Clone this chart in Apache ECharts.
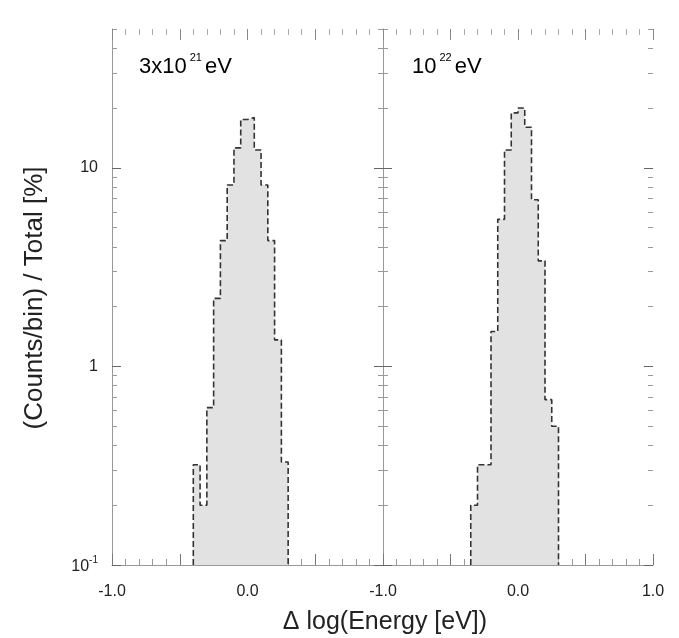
<!DOCTYPE html>
<html><head><meta charset="utf-8">
<script src="https://cdn.jsdelivr.net/npm/echarts@6/dist/echarts.min.js"></script>
<style>html,body{margin:0;padding:0;background:#fff}#c{width:679px;height:638px}</style>
</head><body><div id="c"></div>
<script>
// ---- data ----
const leftBinEdges  = [-0.4,-0.35,-0.3,-0.25,-0.2,-0.15,-0.1,-0.05,0,0.05,0.1,0.15,0.2,0.25,0.3];
const leftPercent   = [0.32,0.2,0.62,2.2,4.3,8.2,12.6,17.5,17.9,12.3,8.2,4.3,1.36,0.33];
const rightBinEdges = [-0.35,-0.3,-0.25,-0.2,-0.15,-0.1,-0.05,0,0.05,0.1,0.15,0.2,0.25,0.3];
const rightPercent  = [0.2,0.32,0.32,1.5,5.5,12.3,18.9,20,16,6.9,3.4,0.68,0.5];
const panelBase = ['3x10', '10'];
const panelExp  = ['21', '22'];
const panelUnit = 'eV';
const xLabelsLeft  = [-1, 0];
const xLabelsRight = [-1, 0, 1];
const yMajor = [0.1, 1, 10];
const yMinor = [0.2,0.3,0.4,0.5,0.6,0.7,0.8,0.9,2,3,4,5,6,7,8,9,20,30,40,50];
const yTitle = '(Counts/bin) / Total [%]';
const xTitle = '\u0394 log(Energy [eV])';
const yMin = 0.1, yMax = 50, xMin = -1, xMax = 1;

const FONT = '"Liberation Sans", Arial, sans-serif';
const TXT = '#222';

function stepData(edges, vals) {
  const d = [[edges[0], yMin]];
  vals.forEach((v, i) => d.push([edges[i], v > yMin ? v : yMin]));
  d.push([edges[edges.length - 1], vals[vals.length - 1]]);
  d.push([edges[edges.length - 1], yMin]);
  return d;
}

const grids = [
  {left: 112, top: 29, width: 271, height: 536},
  {left: 383, top: 29, width: 270, height: 536}
];

const xAxes = [];
const yAxes = [];
[0, 1].forEach(g => {
  // bottom
  xAxes.push({
    type: 'value', gridIndex: g, min: xMin, max: xMax, interval: 0.5, position: 'bottom',
    axisLine: {show: true, onZero: false, lineStyle: {color: '#999', width: 1}},
    axisTick: {show: true, inside: true, length: 11, lineStyle: {color: '#777'}},
    minorTick: {show: true, splitNumber: 5, length: 6, lineStyle: {color: '#999'}},
    splitLine: {show: false}, minorSplitLine: {show: false},
    axisLabel: {
      show: true, customValues: g === 0 ? xLabelsLeft : xLabelsRight, margin: 19,
      fontFamily: FONT, fontSize: 16, color: TXT,
      formatter: v => (v < 0 ? '-' : '') + Math.abs(v).toFixed(1)
    }
  });
  // top
  xAxes.push({
    type: 'value', gridIndex: g, min: xMin, max: xMax, interval: 0.5, position: 'top',
    axisLine: {show: false, onZero: false},
    axisTick: {show: true, inside: true, length: 11, lineStyle: {color: '#888'}},
    minorTick: {show: true, splitNumber: 5, length: 6, lineStyle: {color: '#aaa'}},
    splitLine: {show: false}, axisLabel: {show: false}
  });
  const mk = (pos, major, lineShow, labels) => ({
    type: 'log', logBase: 10, gridIndex: g, min: yMin, max: yMax, position: pos,
    axisLine: {show: lineShow, onZero: false, lineStyle: {color: '#999', width: 1}},
    axisTick: {show: true, inside: true, length: major ? 9 : 5, customValues: major ? yMajor : yMinor,
               lineStyle: {color: major ? '#666' : '#999'}},
    splitLine: {show: false},
    axisLabel: labels ? {
      show: true, customValues: yMajor, margin: 14, fontFamily: FONT, fontSize: 16, color: TXT,
      formatter: v => v < 0.5 ? '{b|10}{s|-1}' : String(Math.round(v)),
      rich: {b: {fontFamily: FONT, fontSize: 16, color: TXT, verticalAlign: 'bottom', lineHeight: 20},
             s: {fontFamily: FONT, fontSize: 10, color: TXT, verticalAlign: 'top', lineHeight: 20}}
    } : {show: false}
  });
  yAxes.push(mk('left', true, true, g === 0));
  yAxes.push(mk('left', false, false, false));
  yAxes.push(mk('right', true, false, false));
  yAxes.push(mk('right', false, false, false));
});

const mkSeries = (g, edges, vals) => ({
  type: 'line', xAxisIndex: g * 2, yAxisIndex: g * 4, step: 'end',
  data: stepData(edges, vals), symbol: 'none', silent: true, clip: true,
  lineStyle: {color: '#333', width: 1.6, type: [6, 3]},
  areaStyle: {color: '#e2e2e2', opacity: 1, origin: 'start'},
  z: 3
});

const richPanel = {
  a: {fontFamily: FONT, fontSize: 22, color: TXT, verticalAlign: 'bottom', lineHeight: 26},
  s: {fontFamily: FONT, fontSize: 11, color: TXT, verticalAlign: 'top', lineHeight: 26, padding: [0, 3, 0, 3]}
};

const option = {
  animation: false,
  backgroundColor: '#fff',
  grid: grids,
  xAxis: xAxes,
  yAxis: yAxes,
  series: [mkSeries(0, leftBinEdges, leftPercent), mkSeries(1, rightBinEdges, rightPercent)],
  graphic: [
    {type: 'text', left: 139, top: 52, z: 10,
     style: {text: '{a|' + panelBase[0] + '}{s|' + panelExp[0] + '}{a|' + panelUnit + '}', rich: richPanel}},
    {type: 'text', left: 412, top: 52, z: 10,
     style: {text: '{a|' + panelBase[1] + '}{s|' + panelExp[1] + '}{a|' + panelUnit + '}', rich: richPanel}},
    {type: 'text', x: 35, y: 298, rotation: Math.PI / 2, z: 10,
     style: {text: yTitle, font: '26px ' + FONT, fill: TXT, align: 'center', verticalAlign: 'middle'}},
    {type: 'text', x: 385, y: 622, z: 10,
     style: {text: xTitle, font: '25px ' + FONT, fill: TXT, align: 'center', verticalAlign: 'middle'}}
  ]
};

const chart = echarts.init(document.getElementById('c'), null, {renderer: 'canvas'});
chart.setOption(option);
</script>
</body></html>
